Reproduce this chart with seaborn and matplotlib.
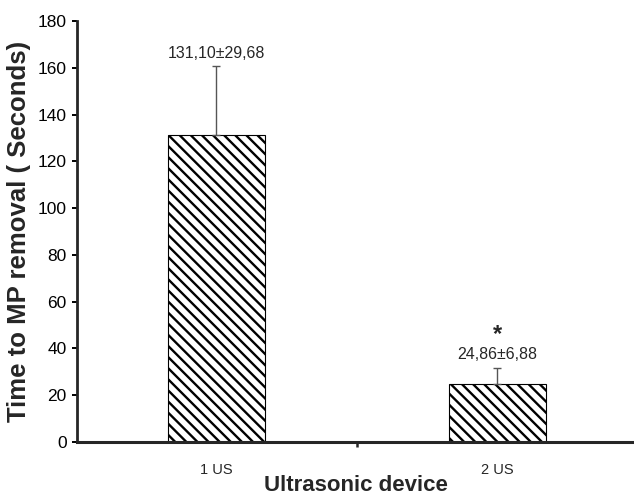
import matplotlib
matplotlib.use("Agg")
import matplotlib.pyplot as plt
import seaborn as sns
import pandas as pd

# data
devices = ["1 US", "2 US"]
mean_time = [131.10, 24.86]
sd_time = [29.68, 6.88]
value_labels = ["131,10±29,68", "24,86±6,88"]
significant = [False, True]

sns.set_style("ticks")
plt.rcParams["font.family"] = ["Liberation Sans", "DejaVu Sans"]
plt.rcParams["hatch.linewidth"] = 1.7
plt.rcParams["hatch.color"] = "black"

df = pd.DataFrame({"device": devices, "time": mean_time})

fig = plt.figure(figsize=(6.34, 4.98), dpi=100)
ax = fig.add_axes([0.1215, 0.1124, 0.8785, 0.8454])

sns.barplot(data=df, x="device", y="time", color="white", width=0.345,
            edgecolor="black", linewidth=0.8, saturation=1, ax=ax)
for p in ax.patches:
    p.set_hatch("\\\\\\")
    p.set_facecolor("white")

# upper error bars only
ax.errorbar(x=range(len(devices)), y=mean_time, yerr=[[0] * len(sd_time), sd_time],
            fmt="none", ecolor="#555555", elinewidth=1.0, capsize=3, capthick=1.0)

# value labels above the error bars
for i, (m, s, lab, sig) in enumerate(zip(mean_time, sd_time, value_labels, significant)):
    top = m + s
    ax.text(i, top + 2.3, lab, ha="center", va="bottom", fontsize=11.5)
    if sig:
        ax.text(i, top + 9.5, "*", ha="center", va="bottom", fontsize=17, fontweight="bold")

ax.set_xlim(-0.495, 1.487)
ax.set_ylim(0, 180)
ax.set_yticks(range(0, 181, 20))

sns.despine(ax=ax)
ax.spines["left"].set_linewidth(2.0)
ax.spines["bottom"].set_linewidth(2.2)

ax.tick_params(axis="y", labelsize=12.5, length=3.5, width=1.4, pad=4, colors="black")
ax.tick_params(axis="x", which="major", labelsize=10.5, length=0, pad=15)
ax.set_xticks([0.5], minor=True)
ax.tick_params(axis="x", which="minor", length=3.5, width=1.8)

ax.set_xlabel("Ultrasonic device", fontsize=16, fontweight="bold", labelpad=-1)
ax.set_ylabel("Time to MP removal ( Seconds)", fontsize=18.5, fontweight="bold", labelpad=5)

fig.savefig("out.png", dpi=100)
